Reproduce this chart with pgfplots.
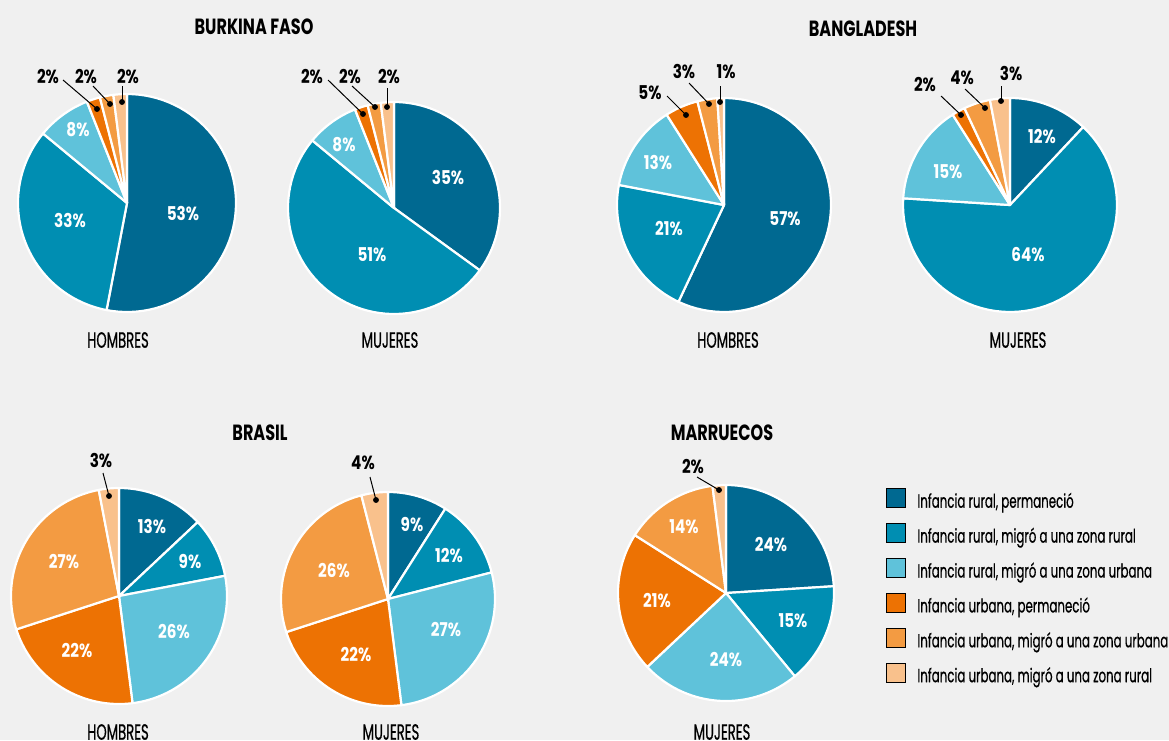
\documentclass[border=0pt]{standalone}
\usepackage{pgfplots}
\pgfplotsset{compat=1.18}
\usepackage{fontspec}
\setmainfont{Poppins}[FakeStretch=0.6]
\newfontfamily\fT{Poppins}[FakeStretch=0.73]
\newfontfamily\fL{Poppins}[FakeStretch=0.8]
\newfontfamily\fR{Poppins}[FakeStretch=0.6, FakeBold=0.6]
\newfontfamily\fG{Poppins}[FakeStretch=0.622, FakeBold=0.5]
\definecolor{bgc}{HTML}{F0F0F0}
\definecolor{c1}{HTML}{006991}
\definecolor{c2}{HTML}{008EB2}
\definecolor{c3}{HTML}{5FC2DA}
\definecolor{c4}{HTML}{ED7203}
\definecolor{c5}{HTML}{F39B42}
\definecolor{c6}{HTML}{F9C18C}
\newcommand\titlefont{\fT\bfseries\fontsize{22}{22}\selectfont}
\newcommand\lblfont{\fL\bfseries\fontsize{19}{19}\selectfont}
\newcommand\subfont{\fR\fontsize{22}{22}\selectfont}
\newcommand\legfont{\fG\fontsize{19}{19}\selectfont}
% pie: #1 cx, #2 cy, #3 r, #4 values (percent), clockwise from top
\newcommand\pie[4]{%
  \def\startang{-90}\def\idx{0}%
  \pgfplotsforeachungrouped \v in {#4}{%
    \pgfmathtruncatemacro\idx{\idx+1}%
    \pgfmathsetmacro\endang{\startang+3.6*\v}%
    \edef\tmp{\noexpand\addplot[fill=c\idx, draw=white, line width=2.2pt, line join=round, domain=\startang:\endang, samples=60, forget plot, mark=none] ({#1+#3*cos(x)},{#2+#3*sin(x)}) -- (axis cs:#1,#2) -- cycle;}%
    \tmp
    \let\startang\endang
  }}
\newcommand\lbl[3]{\node[font=\lblfont, text=white] at (axis cs:#1,#2) {#3};}
\newcommand\olbl[7]{\node[font=\lblfont, text=black] at (axis cs:#1,#2) {#3};
  \addplot[black, line width=1pt, mark=*, mark size=2.4pt, mark indices={2}, forget plot] coordinates {(#4,#5) (#6,#7)};}
\newcommand\ttl[3]{\node[font=\titlefont] at (axis cs:#1,#2) {#3};}
\newcommand\sub[3]{\node[font=\subfont] at (axis cs:#1,#2) {#3};}
\begin{document}
\begin{tikzpicture}
\begin{axis}[x=1pt, y=1pt, xmin=0, xmax=1169, ymin=0, ymax=740, y dir=reverse,
  hide axis, scale only axis, clip=true,
  legend style={at={(axis cs:886,488)}, anchor=north west, draw=none, fill=none,
    inner sep=0pt, outer sep=0pt, font=\legfont, row sep=10.2pt, column sep=12pt,
    nodes={inner sep=0pt, outer sep=0pt, text height=17pt, text depth=5pt}},
  legend cell align=left,
  legend image code/.code={\fill[#1] (0pt,-5.5pt) rectangle (19pt,13.5pt);}]
\fill[bgc] (axis cs:0,0) rectangle (axis cs:1169,740);
% Burkina Faso
\pie{127}{203}{109}{53,33,8,2,2,2}
\lbl{183}{213}{53\%}\lbl{70}{220}{33\%}\lbl{78}{130}{8\%}
\olbl{48}{77}{2\%}{63}{80}{97}{109}
\olbl{86}{77}{2\%}{93}{86}{110}{104}
\olbl{128}{77}{2\%}{122}{86}{122}{102}
\pie{394}{208}{106}{35,51,8,2,2,2}
\lbl{448}{178}{35\%}\lbl{372}{255}{51\%}\lbl{344}{145}{8\%}
\olbl{312}{77}{2\%}{328}{80}{363}{114}
\olbl{350}{77}{2\%}{352}{86}{375}{107}
\olbl{389}{77}{2\%}{387}{88}{387}{107}
% Bangladesh
\pie{724}{205}{107}{57,21,13,5,3,1}
\lbl{785}{219}{57\%}\lbl{669}{229}{21\%}\lbl{658}{163}{13\%}
\olbl{650}{93}{5\%}{667}{96}{686}{115}
\olbl{684}{72}{3\%}{689}{83}{709}{104}
\olbl{726}{72}{1\%}{720}{86}{720}{102}
\pie{1010}{205}{107}{12,64,15,2,4,3}
\lbl{1042}{137}{12\%}\lbl{1028}{255}{64\%}\lbl{948}{172}{15\%}
\olbl{925}{85}{2\%}{941}{96}{961}{115}
\olbl{962}{78}{4\%}{965}{89}{985}{108}
\olbl{1011}{74}{3\%}{1001}{86}{1001}{101}
% Brasil
\pie{119}{596}{108}{13,9,26,22,27,3}
\lbl{152}{526}{13\%}\lbl{190}{561}{9\%}\lbl{174}{632}{26\%}\lbl{77}{651}{22\%}\lbl{64}{562}{27\%}
\olbl{101}{460}{3\%}{103}{473}{109}{496}
\pie{388}{599}{107}{9,12,27,22,26,4}
\lbl{412}{524}{9\%}\lbl{449}{556}{12\%}\lbl{446}{630}{27\%}\lbl{356}{655}{22\%}\lbl{334}{571}{26\%}
\olbl{363}{463}{4\%}{370}{477}{376}{500}
% Marruecos
\pie{726}{593}{108}{24,15,24,21,14,2}
\lbl{771}{545}{24\%}\lbl{793}{621}{15\%}\lbl{726}{660}{24\%}\lbl{657}{601}{21\%}\lbl{684}{527}{14\%}
\olbl{693}{467}{2\%}{697}{477}{719}{490}
% titles
\ttl{254}{27}{BURKINA FASO}
\ttl{863}{29}{BANGLADESH}
\ttl{260}{433}{BRASIL}
\ttl{722}{433}{MARRUECOS}
\sub{118}{340}{HOMBRES}\sub{390}{340}{MUJERES}
\sub{728}{340}{HOMBRES}\sub{1018}{340}{MUJERES}
\sub{118}{732}{HOMBRES}\sub{391}{732}{MUJERES}\sub{722}{732}{MUJERES}
% legend
\addlegendimage{fill=c1}\addlegendentry{Infancia rural, permaneció}
\addlegendimage{fill=c2}\addlegendentry{Infancia rural, migró a una zona rural}
\addlegendimage{fill=c3}\addlegendentry{Infancia rural, migró a una zona urbana}
\addlegendimage{fill=c4}\addlegendentry{Infancia urbana, permaneció}
\addlegendimage{fill=c5}\addlegendentry{Infancia urbana, migró a una zona urbana}
\addlegendimage{fill=c6}\addlegendentry{Infancia urbana, migró a una zona rural}
\end{axis}
\pgfresetboundingbox
\useasboundingbox (current axis.south west) rectangle (current axis.north east);
\end{tikzpicture}
\end{document}
